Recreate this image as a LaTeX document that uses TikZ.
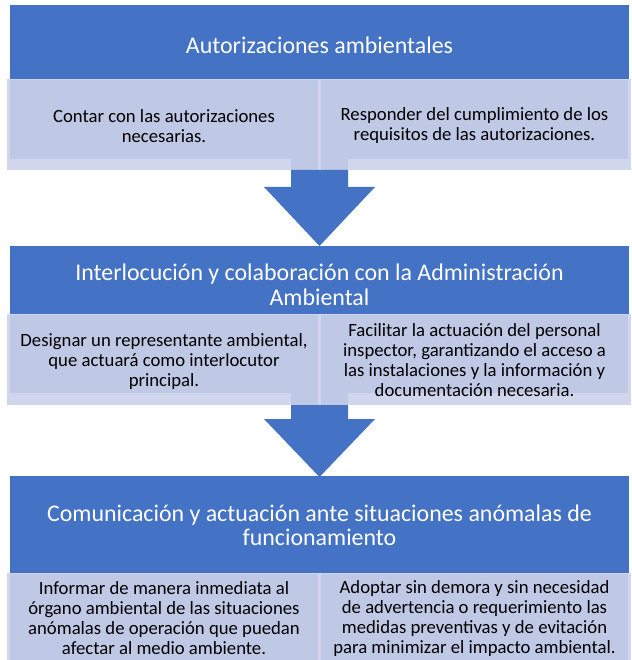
\documentclass[tikz,border=0pt]{standalone}
\usepackage{fontspec}
\setmainfont{Carlito}
\definecolor{hdr}{HTML}{4472C4}
\definecolor{boxc}{HTML}{BFC8E5}
\definecolor{stripc}{HTML}{D0D7EC}
\tikzset{
  header/.style={fill=hdr, draw=none, inner sep=0pt},
  htext/.style={text=white, align=center, font=\fontsize{23.9}{24.5}\selectfont},
  strip/.style={fill=stripc, draw=none},
  childbox/.style={fill=boxc, draw=none},
  ctext/.style={text=black, align=center, font=\fontsize{18.7}{20}\selectfont},
  blockarrow/.style={fill=hdr, draw=none}
}
\begin{document}
\begin{tikzpicture}[x=1pt,y=-1pt]
\useasboundingbox (0,0) rectangle (631,660);
\fill[white] (0,0) rectangle (631,660);

% ---------- section 1 ----------
\fill[header] (10,5) rectangle (629,79);
\node[htext] (h1) at (319.5,45) {Autorizaciones ambientales};
\fill[strip] (7,79) rectangle (631,170);
\fill[childbox] (10,80) rectangle (318,159);
\fill[childbox] (321,80) rectangle (628,159);
\fill[childbox] (291,159) rectangle (318,170);
\fill[childbox] (321,159) rectangle (348,170);
\node[ctext] (c1a) at (164,126) {Contar con las autorizaciones\\necesarias.};
\node[ctext] (c1b) at (474.5,126) {Responder del cumplimiento de los\\requisitos de las autorizaciones.};

% arrow 1
\fill[blockarrow] (291,170) -- (348,170) -- (348,187) -- (375,187) -- (319.5,246)
  -- (264,187) -- (291,187) -- cycle;
\coordinate (a1) at (319.5,246);

% ---------- section 2 ----------
\fill[header] (10,246) rectangle (629,314);
\node[htext] (h2) at (319.5,285) {Interlocución y colaboración con la Administración\\Ambiental};
\fill[strip] (7,314) rectangle (631,405);
\fill[childbox] (10,315) rectangle (318,393);
\fill[childbox] (321,315) rectangle (628,393);
\fill[childbox] (291,393) rectangle (318,405);
\fill[childbox] (321,393) rectangle (348,405);
\node[ctext] (c2a) at (164,362) {Designar un representante ambiental,\\que actuará como interlocutor\\principal.};
\node[ctext] (c2b) at (474.5,360.5) {Facilitar la actuación del personal\\inspector, garantizando el acceso a\\las instalaciones y la información y\\documentación necesaria.};

% arrow 2
\fill[blockarrow] (291,405) -- (348,405) -- (348,419) -- (375,419) -- (319.5,477)
  -- (264,419) -- (291,419) -- cycle;
\coordinate (a2) at (319.5,477);

% ---------- section 3 ----------
\fill[header] (10,476) rectangle (629,573);
\node[htext] (h3) at (319.5,525.5) {Comunicación y actuación ante situaciones anómalas de\\funcionamiento};
\fill[strip] (7,573) rectangle (631,660);
\fill[childbox] (10,574) rectangle (318,660);
\fill[childbox] (321,574) rectangle (628,660);
\node[ctext] (c3a) at (164,618.5) {Informar de manera inmediata al\\órgano ambiental de las situaciones\\anómalas de operación que puedan\\afectar al medio ambiente.};
\node[ctext] (c3b) at (474.5,618.5) {Adoptar sin demora y sin necesidad\\de advertencia o requerimiento las\\medidas preventivas y de evitación\\para minimizar el impacto ambiental.};
\end{tikzpicture}
\end{document}
